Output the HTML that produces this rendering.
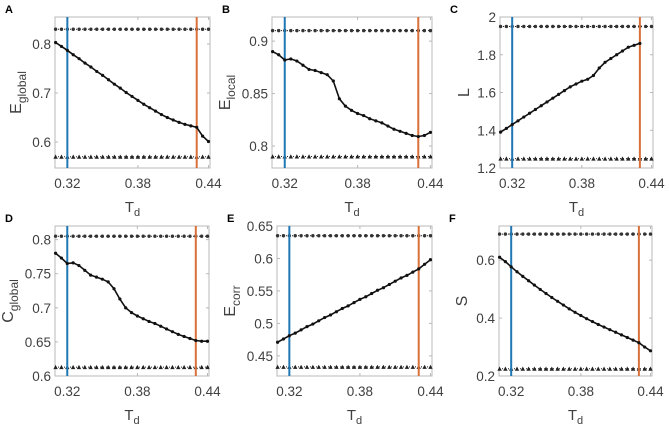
<!DOCTYPE html>
<html><head><meta charset="utf-8"><style>
html,body{margin:0;padding:0;background:#fff}
svg{display:block;font-family:"Liberation Sans",Arial,sans-serif}
</style></head><body>
<svg id="fig" width="669" height="426" viewBox="0 0 669 426" xmlns="http://www.w3.org/2000/svg"></svg>
<script>
const xValues=[0.31,0.315,0.32,0.325,0.33,0.335,0.34,0.345,0.35,0.355,0.36,0.365,0.37,0.375,0.38,0.385,0.39,0.395,0.40,0.405,0.41,0.415,0.42,0.425,0.43,0.435,0.44];
const xTicks=[0.32,0.38,0.44];
const seriesA=[0.803,0.795,0.787,0.778,0.770,0.761,0.753,0.744,0.736,0.727,0.718,0.710,0.701,0.693,0.685,0.677,0.670,0.663,0.656,0.650,0.645,0.640,0.636,0.633,0.630,0.612,0.601];
const seriesB=[0.890,0.887,0.882,0.883,0.881,0.877,0.873,0.872,0.870,0.868,0.862,0.845,0.838,0.834,0.831,0.829,0.826,0.824,0.822,0.819,0.816,0.814,0.812,0.810,0.809,0.810,0.813];
const seriesC=[1.39,1.41,1.43,1.45,1.47,1.49,1.51,1.53,1.55,1.57,1.59,1.61,1.63,1.645,1.66,1.67,1.69,1.73,1.76,1.78,1.80,1.82,1.84,1.85,1.86];
const seriesD=[0.780,0.773,0.765,0.766,0.762,0.755,0.748,0.745,0.742,0.738,0.728,0.713,0.700,0.693,0.688,0.684,0.680,0.677,0.673,0.669,0.665,0.661,0.658,0.655,0.652,0.651,0.651];
const seriesE=[0.471,0.476,0.481,0.485,0.490,0.495,0.499,0.504,0.509,0.513,0.518,0.523,0.527,0.532,0.537,0.541,0.546,0.551,0.555,0.560,0.565,0.570,0.574,0.579,0.584,0.591,0.598];
const seriesF=[0.610,0.595,0.577,0.560,0.544,0.529,0.514,0.499,0.485,0.471,0.458,0.445,0.432,0.420,0.409,0.398,0.388,0.378,0.369,0.360,0.351,0.342,0.333,0.324,0.315,0.300,0.287];
const upperRef=[0.83,0.91,1.95,0.805,0.635,0.69];
const lowerRef=[0.57,0.79,1.25,0.613,0.433,0.225];
const yTicksA=[0.6,0.7,0.8],yTicksB=[0.8,0.85,0.9],yTicksC=[1.2,1.4,1.6,1.8,2],yTicksD=[0.6,0.65,0.7,0.75,0.8],yTicksE=[0.45,0.5,0.55,0.6,0.65],yTicksF=[0.2,0.4,0.6];
const yTickLabelsC=["1.2","1.4","1.6","1.8","2"];
const markerLines=[0.32,0.43];

const NS="http://www.w3.org/2000/svg";
const svg=document.getElementById('fig');
function mk(tag,attrs,parent){const e=document.createElementNS(NS,tag);for(const k in attrs)e.setAttribute(k,attrs[k]);(parent||svg).appendChild(e);return e;}

const panels=[
 {id:'a',L:'A',x0:55,x1:210,y0:17,y1:168,ymin:0.547,ymax:0.855,data:seriesA,ticks:yTicksA,main:'E',sub:'global',off:34},
 {id:'b',L:'B',x0:272,x1:432,y0:17,y1:168,ymin:0.779,ymax:0.923,data:seriesB,ticks:yTicksB,main:'E',sub:'local',off:42},
 {id:'c',L:'C',x0:500,x1:653,y0:17,y1:168,ymin:1.2,ymax:2.0,data:seriesC,ticks:yTicksC,labels:yTickLabelsC,main:'L',sub:'',off:31},
 {id:'d',L:'D',x0:55,x1:209,y0:226,y1:376,ymin:0.6,ymax:0.82,data:seriesD,ticks:yTicksD,main:'C',sub:'global',off:42},
 {id:'e',L:'E',x0:277,x1:432,y0:226,y1:376,ymin:0.419,ymax:0.65,data:seriesE,ticks:yTicksE,main:'E',sub:'corr',off:42},
 {id:'f',L:'F',x0:499,x1:652,y0:226,y1:376,ymin:0.2,ymax:0.718,data:seriesF,ticks:yTicksF,main:'S',sub:'',off:32}
];
const xmin=0.3095,xmax=0.4413;

panels.forEach((p,pi)=>{
  const g=mk('g',{});
  
  
  const X=v=>p.x0+(v-xmin)/(xmax-xmin)*(p.x1-p.x0);
  const Y=v=>p.y1-(v-p.ymin)/(p.ymax-p.ymin)*(p.y1-p.y0);
  const lt=mk('text',{x:p.x0-50,y:p.y0-4,'font-size':11,'font-weight':'bold',fill:'#000'},g);
  lt.textContent=p.L;
  
  
  const box=mk('rect',{x:p.x0,y:p.y0,width:p.x1-p.x0,height:p.y1-p.y0,fill:'#fff',stroke:'#b8b8b8','stroke-width':1},g);
  
  
  p.ticks.forEach((t,i)=>{
    const y=Y(t);
    mk('line',{x1:p.x0,x2:p.x0+3,y1:y,y2:y,stroke:'#b8b8b8'},g);
    mk('line',{x1:p.x1,x2:p.x1-3,y1:y,y2:y,stroke:'#b8b8b8'},g);
    const tx=mk('text',{x:p.x0-4,y:y+5,'font-size':13.5,'text-anchor':'end',fill:'#404040'},g);
    tx.textContent=p.labels?p.labels[i]:String(t);
    
    
  });
  xTicks.forEach(t=>{
    const x=X(t);
    mk('line',{x1:x,x2:x,y1:p.y1,y2:p.y1-3,stroke:'#b8b8b8'},g);
    mk('line',{x1:x,x2:x,y1:p.y0,y2:p.y0+3,stroke:'#b8b8b8'},g);
    const tx=mk('text',{x:x,y:p.y1+20,'font-size':13.5,'text-anchor':'middle',fill:'#404040'},g);
    tx.textContent=t.toFixed(2);
    
    
  });
  const xl=mk('text',{x:(p.x0+p.x1)/2,y:p.y1+44,'font-size':15,'text-anchor':'middle',fill:'#404040'},g);
  xl.innerHTML='T<tspan font-size="11" dy="4">d</tspan>';
  
  
  const cy=(p.y0+p.y1)/2;
  const yl=mk('text',{x:0,y:0,'font-size':16,'text-anchor':'middle',fill:'#404040',transform:`translate(${p.x0-p.off},${cy}) rotate(-90)`},g);
  yl.innerHTML=p.main+(p.sub?`<tspan font-size="12" dy="5">${p.sub}</tspan>`:'');
  
  
  const yu=Y(upperRef[pi]),yb=Y(lowerRef[pi]);
  const up=mk('line',{x1:p.x0,x2:p.x1,y1:yu,y2:yu,stroke:'#222','stroke-width':1,'stroke-dasharray':'1 2'},g);
  
  
  const lo=mk('line',{x1:p.x0,x2:p.x1,y1:yb,y2:yb,stroke:'#222','stroke-width':1,'stroke-dasharray':'1 2'},g);
  
  
  xValues.forEach(v=>{
    const x=X(v);
    const c=mk('circle',{cx:x,cy:yu,r:1.7,fill:'#333'},g);
    
    
    const tr=mk('polygon',{points:`${x-2.2},${yb+2} ${x+2.2},${yb+2} ${x},${yb-2.2}`,fill:'#222'},g);
    
    
  });
  const vb=mk('line',{x1:X(markerLines[0]),x2:X(markerLines[0]),y1:p.y0,y2:p.y1,stroke:'#1f77b4','stroke-width':2},g);
  
  
  const vo=mk('line',{x1:X(markerLines[1]),x2:X(markerLines[1]),y1:p.y0,y2:p.y1,stroke:'#d9703a','stroke-width':2},g);
  
  
  const pts=p.data.map((v,i)=>`${X(xValues[i]).toFixed(1)},${Y(v).toFixed(1)}`).join(' ');
  const pl=mk('polyline',{points:pts,fill:'none',stroke:'#111','stroke-width':1.6},g);
  
  
  p.data.forEach((v,i)=>{
    const c=mk('circle',{cx:X(xValues[i]),cy:Y(v),r:1.6,fill:'#111'},g);
    
    
  });
});
</script>
</body></html>
